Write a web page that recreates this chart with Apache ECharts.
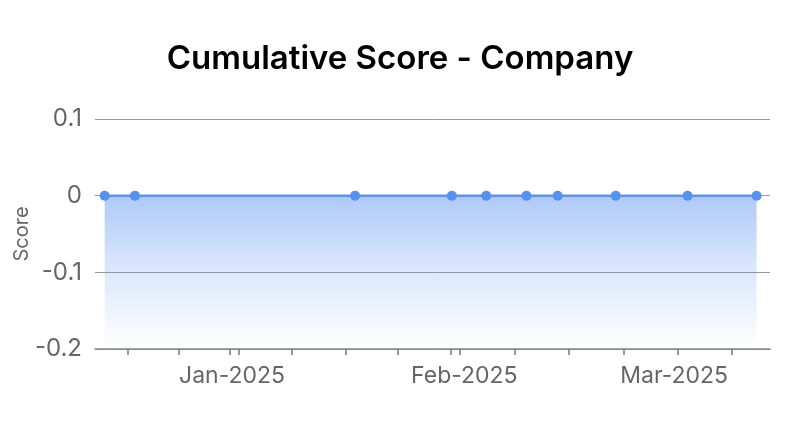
<!DOCTYPE html>
<html>
<head>
<meta charset="utf-8">
<script src="https://cdn.jsdelivr.net/npm/echarts@6/dist/echarts.min.js"></script>
<style>
html,body{margin:0;padding:0;background:#fff;}
#chart{width:800px;height:431px;}
</style>
</head>
<body>
<div id="chart"></div>
<script>
const dates = ['2024-12-15T00:00','2024-12-19T01:00','2025-01-17T10:00','2025-01-30T08:00','2025-02-03T22:00','2025-02-09T07:00','2025-02-13T11:00','2025-02-21T05:00','2025-03-02T19:00','2025-03-12T00:00'];
const scores = [0, 0, 0, 0, 0, 0, 0, 0, 0, 0];
const tickDates = ['2024-12-18T02:00','2024-12-24T22:00','2024-12-31T16:00','2025-01-01T20:00','2025-01-09T00:00','2025-01-16T04:00','2025-01-23T04:00','2025-01-30T05:00','2025-01-31T10:00','2025-02-07T17:00','2025-02-15T00:00','2025-02-22T05:00','2025-03-01T12:00','2025-03-08T17:00'];
const labelDates = ['2025-01-01T00:00','2025-02-01T00:00','2025-03-01T00:00'];
const monthNames = ['Jan','Feb','Mar','Apr','May','Jun','Jul','Aug','Sep','Oct','Nov','Dec'];
const axisMin = '2024-12-13T17:00';
const axisMax = '2025-03-13T19:00';

const ts = s => new Date(s + ':00').getTime();

const chart = echarts.init(document.getElementById('chart'), null, {renderer: 'canvas'});
chart.setOption({
  animation: false,
  backgroundColor: '#ffffff',
  title: {
    text: 'Cumulative Score - Company',
    left: 'center',
    top: 38,
    textStyle: {fontFamily: 'Inter', fontSize: 33, fontWeight: 600, color: '#000'}
  },
  grid: {left: 95, right: 30, top: 119, bottom: 82, containLabel: false, outerBoundsMode: 'none'},
  xAxis: {
    type: 'value',
    min: ts(axisMin),
    max: ts(axisMax),
    axisLine: {show: true, onZero: false, lineStyle: {color: '#888', width: 1.5}},
    axisTick: {show: true, length: 6, lineStyle: {color: '#777', width: 1.5}, customValues: tickDates.map(ts)},
    splitLine: {show: false},
    axisLabel: {
      customValues: labelDates.map(ts),
      fontFamily: 'Inter', fontSize: 23, color: '#666', margin: 16,
      formatter: v => { const d = new Date(v); return monthNames[d.getMonth()] + '-' + d.getFullYear(); }
    }
  },
  yAxis: {
    type: 'value',
    min: -0.2,
    max: 0.1,
    interval: 0.1,
    name: 'Score',
    nameLocation: 'middle',
    nameGap: 63,
    nameMoveOverlap: false,
    nameTextStyle: {fontFamily: 'Inter', fontSize: 20, color: '#666'},
    axisLine: {show: false},
    axisTick: {show: false},
    axisLabel: {fontFamily: 'Inter', fontSize: 24, color: '#666', margin: 13,
      formatter: v => String(Math.round(v * 10) / 10)},
    splitLine: {show: true, lineStyle: {color: '#999', width: 1}}
  },
  series: [{
    type: 'line',
    data: dates.map((d, i) => [ts(d), scores[i]]),
    symbol: 'circle',
    symbolSize: 10,
    showSymbol: true,
    itemStyle: {color: '#5590f3'},
    lineStyle: {color: '#5b93f3', width: 2.5},
    areaStyle: {
      origin: 'start',
      color: new echarts.graphic.LinearGradient(0, 0, 0, 1, [
        {offset: 0, color: 'rgba(74,134,240,0.63)'},
        {offset: 0.5, color: 'rgba(74,134,240,0.27)'},
        {offset: 1, color: 'rgba(74,134,240,0.0)'}
      ])
    },
    z: 1
  }]
});
</script>
</body>
</html>
